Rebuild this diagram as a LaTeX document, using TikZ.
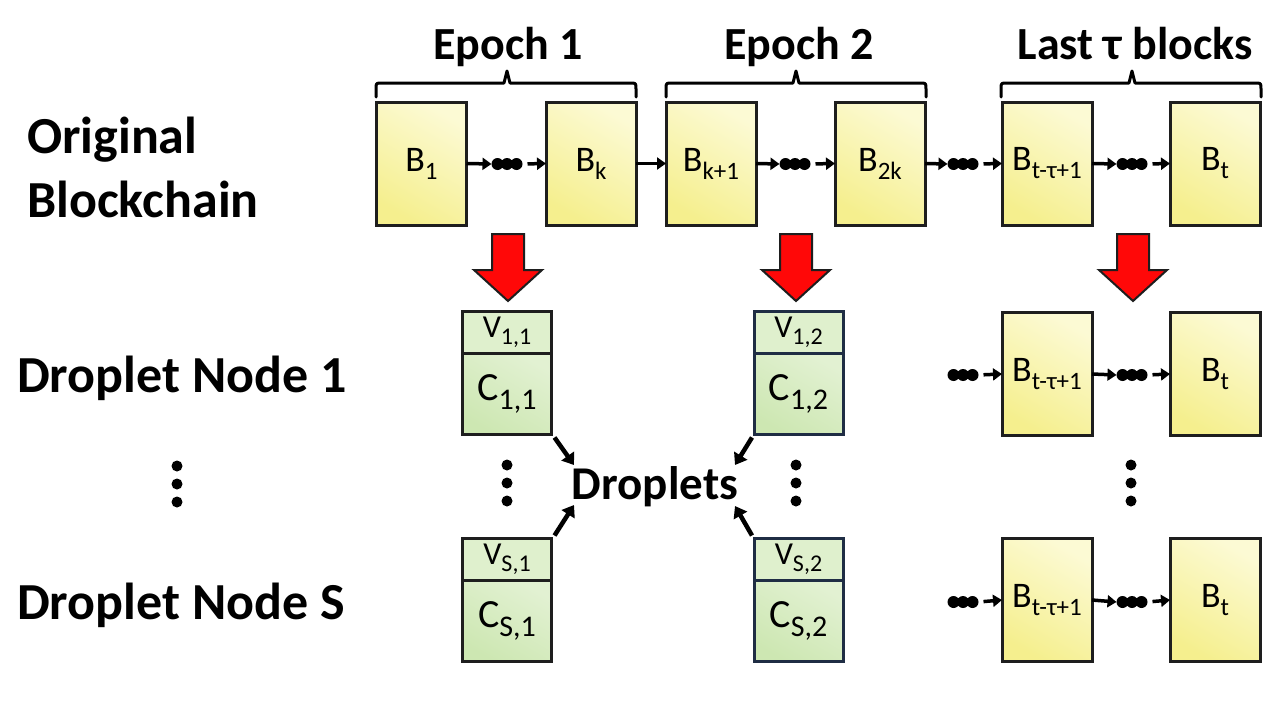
\documentclass[tikz,border=0pt]{standalone}
\usepackage{fontspec}
\setmainfont{Carlito}
\usetikzlibrary{arrows.meta}
\definecolor{yelD}{HTML}{F5EF8E}
\definecolor{yelR}{HTML}{FCFAD4}
\definecolor{grnV}{HTML}{DFF0CD}
\definecolor{grnCL}{HTML}{CDE7B2}
\definecolor{grnCR}{HTML}{E2F1D2}
\definecolor{navy}{HTML}{1F2D44}
\definecolor{redA}{HTML}{FF0808}
\definecolor{edge}{HTML}{1E1E1E}
\newcommand{\fsz}[1]{\fontsize{#1}{#1}\selectfont}
\newcommand{\lowsub}[3]{\raisebox{-#2pt}{\fsz{#1}#3}}
\tikzset{
  blk/.style={draw=edge, line width=3pt, outer sep=0pt, minimum width=90pt, minimum height=123pt, inner sep=0pt, top color=yelR, bottom color=yelD, shading angle=-30, font=\fsz{36}},
  vbox/.style={draw=#1, line width=3pt, outer sep=0pt, minimum width=89pt, minimum height=42pt, inner sep=0pt, fill=grnV, font=\fsz{32}},
  cbox/.style={draw=#1, line width=3pt, outer sep=0pt, minimum width=89pt, minimum height=81pt, inner sep=0pt, top color=grnCR, bottom color=grnCL, shading angle=-30, font=\fsz{40}},
  lbl/.style={font=\bfseries\fsz{#1}, inner sep=0pt},
  hdots/.style={minimum width=31pt, minimum height=12pt, inner sep=0pt, outer sep=0pt,
    path picture={\fill[black] ([xshift=-9.5pt]path picture bounding box.center) circle[radius=6pt]
      (path picture bounding box.center) circle[radius=6pt]
      ([xshift=9.5pt]path picture bounding box.center) circle[radius=6pt];}},
  vdots/.style={minimum width=11pt, minimum height=47pt, inner sep=0pt,
    path picture={\fill[black] ([yshift=-18pt]path picture bounding box.center) circle[radius=5.5pt]
      (path picture bounding box.center) circle[radius=5.5pt]
      ([yshift=18pt]path picture bounding box.center) circle[radius=5.5pt];}},
  cha/.style={line width=3.5pt, draw=black, -{Triangle[length=9pt,width=12pt]}},
  dra/.style={line width=4.5pt, draw=black, -{Triangle[length=11pt,width=15pt]}},
  brc/.style={line width=3pt, draw=black, line cap=round, line join=round},
  redarrow/.pic={\filldraw[fill=redA, draw=edge, line width=2pt, line join=miter]
    (-16,0) -- (16,0) -- (16,36) -- (34,36) -- (0,67) -- (-34,36) -- (-16,36) -- cycle;}
}
\begin{document}
\begin{tikzpicture}[x=1pt,y=-1pt]
\useasboundingbox[fill=white] (0,0) rectangle (1280,720);

% left labels
\node[lbl=52, anchor=base west] (orig) at (27,153) {Original};
\node[lbl=52, anchor=base west] (bchain) at (27,217) {Blockchain};
\node[lbl=52, anchor=base west] (dn1) at (17,392) {Droplet Node 1};
\node[lbl=52, anchor=base west] (dns) at (17,619) {Droplet Node S};
\node[vdots] (vdl) at (177,484) {};

% epoch labels and braces
\node[lbl=46, anchor=base] (ep1) at (508,59) {Epoch 1};
\node[lbl=46, anchor=base] (ep2) at (799,59) {Epoch 2};
\node[lbl=46, anchor=base] (ep3) at (1135,59) {Last τ blocks};
\draw[brc] (376,97) -- (376,89) .. controls (376,83) .. (382,83) -- (504,83) -- (507,71) -- (510,83) -- (630,83) .. controls (636,83) .. (636,89) -- (636,97);
\draw[brc] (666,97) -- (666,89) .. controls (666,83) .. (672,83) -- (793,83) -- (796,71) -- (799,83) -- (920,83) .. controls (926,83) .. (926,89) -- (926,97);
\draw[brc] (1001,97) -- (1001,89) .. controls (1001,83) .. (1007,83) -- (1129,83) -- (1132,71) -- (1135,83) -- (1255,83) .. controls (1261,83) .. (1261,89) -- (1261,97);

% original chain
\node[blk] (b1) at (421.5,163.5) {B\lowsub{25}{8}{1}};
\node[blk] (bk) at (591,163.5) {B\lowsub{25}{8}{k}};
\node[blk] (bk1) at (711,163.5) {B\lowsub{25}{8}{k+1}};
\node[blk] (b2k) at (880,163.5) {B\lowsub{25}{8}{2k}};
\node[blk] (btt) at (1047,163.5) {B\lowsub{25}{8}{t-τ+1}};
\node[blk] (bt) at (1215,163.5) {B\lowsub{25}{8}{t}};
\node[hdots] (d1) at (507,164) {};
\node[hdots] (d2) at (795,164) {};
\node[hdots] (d3) at (963,164) {};
\node[hdots] (d4) at (1132,164) {};
\draw[cha] (b1.east) -- (d1.west);
\draw[cha, shorten <=5pt] (d1.east) -- (bk.west);
\draw[cha] (bk.east) -- (bk1.west);
\draw[cha] (bk1.east) -- (d2.west);
\draw[cha, shorten <=5pt] (d2.east) -- (b2k.west);
\draw[cha] (b2k.east) -- (d3.west);
\draw[cha, shorten <=5pt] (d3.east) -- (btt.west);
\draw[cha] (btt.east) -- (d4.west);
\draw[cha, shorten <=5pt] (d4.east) -- (bt.west);

% red arrows
\pic at (508,234) {redarrow};
\pic at (796,234) {redarrow};
\pic at (1133,234) {redarrow};

% droplet node 1
\node[vbox=edge] (v11) at (507,332.5) {V\lowsub{24}{7}{1,1}};
\node[cbox=edge, anchor=north] (c11) at (v11.south) {C\lowsub{30}{9}{1,1}};
\node[vbox=navy] (v12) at (798.5,332.5) {V\lowsub{24}{7}{1,2}};
\node[cbox=navy, anchor=north] (c12) at (v12.south) {C\lowsub{30}{9}{1,2}};
\node[blk] (r1a) at (1047,374) {B\lowsub{25}{8}{t-τ+1}};
\node[blk] (r1b) at (1215,374) {B\lowsub{25}{8}{t}};
\node[hdots] (r1d1) at (963,375) {};
\node[hdots] (r1d2) at (1132,375) {};
\draw[cha, shorten <=5pt] (r1d1.east) -- (r1a.west);
\draw[cha] (r1a.east) -- (r1d2.west);
\draw[cha, shorten <=5pt] (r1d2.east) -- (r1b.west);

% droplet node S
\node[vbox=edge] (vs1) at (507,559.5) {V\lowsub{24}{7}{S,1}};
\node[cbox=edge, anchor=north] (cs1) at (vs1.south) {C\lowsub{30}{9}{S,1}};
\node[vbox=navy] (vs2) at (798.5,559.5) {V\lowsub{24}{7}{S,2}};
\node[cbox=navy, anchor=north] (cs2) at (vs2.south) {C\lowsub{30}{9}{S,2}};
\node[blk] (rsa) at (1047,600) {B\lowsub{25}{8}{t-τ+1}};
\node[blk] (rsb) at (1215,600) {B\lowsub{25}{8}{t}};
\node[hdots] (rsd1) at (963,602) {};
\node[hdots] (rsd2) at (1132,602) {};
\draw[cha, shorten <=5pt] (rsd1.east) -- (rsa.west);
\draw[cha] (rsa.east) -- (rsd2.west);
\draw[cha, shorten <=5pt] (rsd2.east) -- (rsb.west);

% vertical dots
\node[vdots] (vd1) at (507,483) {};
\node[vdots] (vd2) at (796,483) {};
\node[vdots] (vd3) at (1131,483) {};

% droplets
\node[lbl=47] (drop) at (655,487) {Droplets};
\coordinate (t1) at (574,465);
\coordinate (t2) at (574,505);
\coordinate (t3) at (735,465);
\coordinate (t4) at (735,506);
\draw[dra] ([shift={(3,3)}]c11.south east) -- (t1);
\draw[dra] ([shift={(3,-3)}]vs1.north east) -- (t2);
\draw[dra] ([shift={(-2,3)}]c12.south west) -- (t3);
\draw[dra] ([shift={(-2,-3)}]vs2.north west) -- (t4);
\end{tikzpicture}
\end{document}
